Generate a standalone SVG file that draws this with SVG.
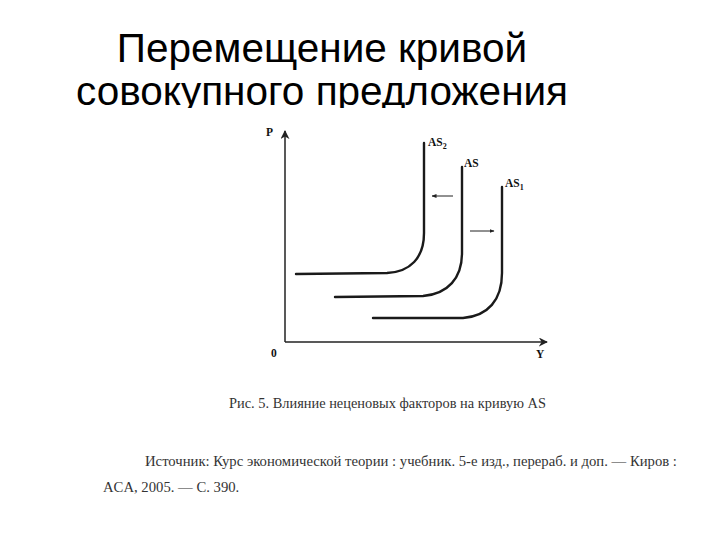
<svg xmlns="http://www.w3.org/2000/svg" width="720" height="540" viewBox="0 0 720 540">
<style>
.title{font-family:"Liberation Sans",Arial,sans-serif;font-size:40.5px;fill:#000}
.lbl{font-family:"Liberation Serif","Times New Roman",serif;font-weight:bold;font-size:11.5px;fill:#111}
.cap{font-family:"Liberation Serif","Times New Roman",serif;font-size:14.4px;fill:#333}
.src{font-family:"Liberation Serif","Times New Roman",serif;font-size:14.7px;fill:#333}
.axis{stroke:#222;stroke-width:1.5;fill:none}
.curve{stroke:#1a1a1a;stroke-width:2.4;fill:none;stroke-linecap:round}
.arr{stroke:#222;stroke-width:1;fill:none}
</style>
<defs>
<marker id="ah" viewBox="0 0 10 10" refX="9" refY="5" markerWidth="9" markerHeight="9" orient="auto" markerUnits="userSpaceOnUse">
<path d="M0,0 L10,5 L0,10 L3,5 Z" fill="#222"/>
</marker>
<marker id="sh" viewBox="0 0 10 10" refX="9" refY="5" markerWidth="5" markerHeight="5" orient="auto" markerUnits="userSpaceOnUse">
<path d="M0,1 L10,5 L0,9 Z" fill="#222"/>
</marker>
</defs>
<rect width="720" height="540" fill="#fff"/>
<g id="title">
<text class="title" x="322" y="62" text-anchor="middle">Перемещение кривой</text>
<text class="title" x="322" y="105" text-anchor="middle">совокупного предложения</text>
</g>
<rect x="0" y="108" width="720" height="432" fill="#fff"/>
<g id="axes">
<path class="axis" d="M285,342 L285,131" marker-end="url(#ah)"/>
<path class="axis" d="M285,342 L547,342" marker-end="url(#ah)"/>
<text class="lbl" x="266" y="136">P</text>
<text class="lbl" x="271" y="357">0</text>
<text class="lbl" x="536" y="358">Y</text>
</g>
<g id="AS2">
<path class="curve" d="M296,274 L387,273 C410,272 424,258 424,233 L424,143"/>
<text class="lbl" x="428" y="146">AS<tspan font-size="8" dy="3">2</tspan></text>
</g>
<g id="AS">
<path class="curve" d="M335,297 L423,296 C448,294 462,278 462,253 L462,167"/>
<text class="lbl" x="464" y="167">AS</text>
</g>
<g id="AS1">
<path class="curve" d="M373,318 L463,318 C488,316 502,300 502,273 L502,187"/>
<text class="lbl" x="505" y="187">AS<tspan font-size="8" dy="3">1</tspan></text>
</g>
<g id="connectors">
<path class="arr" d="M453,196 L432,196" marker-end="url(#sh)"/>
<path class="arr" d="M470,231 L494,231" marker-end="url(#sh)"/>
</g>
<g id="caption">
<text class="cap" x="229" y="408">Рис. 5. Влияние неценовых факторов на кривую AS</text>
<text class="src" x="145" y="466">Источник: Курс экономической теории : учебник. 5-е изд., перераб. и доп. — Киров :</text>
<text class="src" x="103" y="492">ACA, 2005. — C. 390.</text>
</g>
</svg>
